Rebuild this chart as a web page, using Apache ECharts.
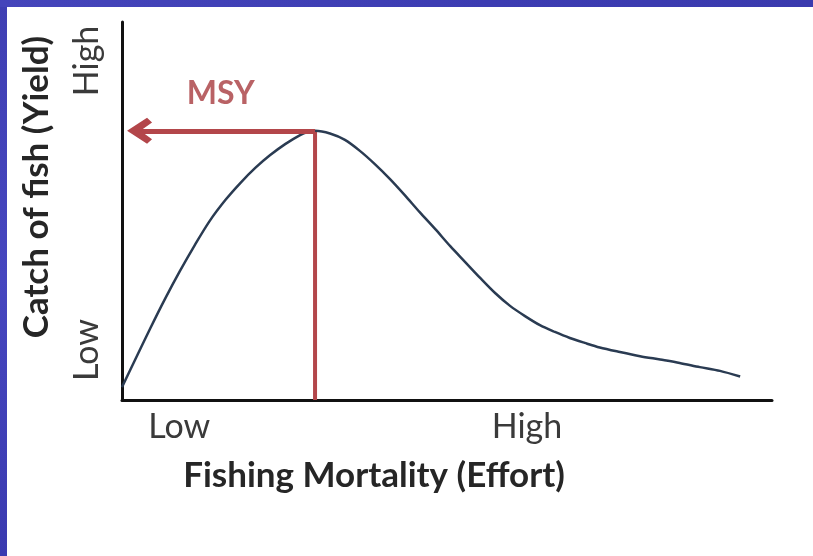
<!DOCTYPE html>
<html>
<head>
<meta charset="utf-8">
<script src="https://cdn.jsdelivr.net/npm/echarts@6/dist/echarts.min.js"></script>
<style>
html,body{margin:0;padding:0;background:#fff;overflow:hidden;}
#chart{position:absolute;left:0;top:0;width:813px;height:556px;}
#bl{position:absolute;left:0;top:0;width:7px;height:556px;background:linear-gradient(180deg,#3f3fb3,#4646bf 50%,#3a3ab0);}
#bt{position:absolute;left:0;top:0;width:813px;height:7px;background:linear-gradient(90deg,#4545bb,#3c3cb2 60%,#3a3aae);}
</style>
</head>
<body>
<div id="chart"></div>
<div id="bl"></div>
<div id="bt"></div>
<script>
// Fishing effort (x, relative 0-100) and catch / yield (y, relative 0-100)
const effort = [0, 2.0, 4.3, 6.6, 8.9, 11.2, 13.5, 15.9, 18.2, 20.5, 22.8, 25.1, 27.4, 28.6, 29.7,
  32.0, 34.3, 36.6, 38.9, 41.2, 43.5, 45.8, 48.2, 50.5, 52.8, 55.1, 57.4, 59.7, 62.0, 64.3, 66.6,
  68.9, 71.2, 73.5, 76.6, 79.7, 82.8, 85.8, 88.9, 92.0, 95.1];
const yieldValues = [3.4, 10.6, 18.8, 26.7, 34.1, 41.0, 47.4, 52.9, 57.4, 61.4, 64.8, 67.7, 70.1, 70.9, 71.2,
  70.5, 68.8, 65.9, 62.4, 58.5, 54.2, 49.7, 45.2, 40.7, 36.5, 32.3, 28.3, 24.9, 22.2, 19.8, 18.0,
  16.4, 15.1, 13.9, 12.7, 11.6, 10.7, 9.8, 8.7, 7.7, 6.2];
const msyEffort = 29.7;
const msyYield = 71.2;
const arrowEnd = 2.7;
const msyLabelPos = [15.2, 81];
const xTickLabels = ['Low', 'High'];
const xTickValues = [8.8, 62.3];
const yTickLabels = ['Low', 'High'];
const yTickValues = [13.2, 89.7];

const curve = effort.map((x, i) => [x, yieldValues[i]]);
const FONT = 'Lato';
const red = '#b3464a';

const chart = echarts.init(document.getElementById('chart'));
chart.setOption({
  animation: false,
  backgroundColor: '#fff',
  grid: {left: 122, top: 22, width: 650, height: 378, containLabel: false},
  xAxis: {
    type: 'value', min: 0, max: 100,
    name: 'Fishing Mortality (Effort)',
    nameLocation: 'middle', nameGap: 58,
    nameTextStyle: {fontFamily: FONT, fontWeight: 'bold', fontSize: 35, color: '#262626', padding: [0, 146, 0, 0]},
    axisLine: {lineStyle: {color: '#111', width: 3}},
    axisTick: {show: false},
    splitLine: {show: false},
    axisLabel: {
      customValues: xTickValues,
      formatter: v => xTickLabels[xTickValues.indexOf(v)] || '',
      fontFamily: FONT, fontSize: 34, color: '#3a3a3a', margin: 10
    }
  },
  yAxis: {
    type: 'value', min: 0, max: 100,
    name: 'Catch of fish (Yield)',
    nameLocation: 'middle', nameGap: 68, nameRotate: 90,
    nameTextStyle: {fontFamily: FONT, fontWeight: 'bold', fontSize: 35, color: '#262626', padding: [0, 0, 0, 48]},
    axisLine: {lineStyle: {color: '#111', width: 3}},
    axisTick: {show: false},
    splitLine: {show: false},
    axisLabel: {
      customValues: yTickValues,
      rotate: 90,
      formatter: v => yTickLabels[yTickValues.indexOf(v)] || '',
      fontFamily: FONT, fontSize: 34, color: '#3a3a3a', margin: 18
    }
  },
  series: [
    {
      name: 'MSY effort', type: 'line', symbol: 'none', silent: true,
      data: [[msyEffort, 0], [msyEffort, msyYield]],
      lineStyle: {color: red, width: 4},
      markLine: {
        silent: true,
        symbol: ['none', 'path://M10,0 L20,12 L16.5,15 L10,8 L3.5,15 L0,12 Z'],
        symbolSize: [26, 25],
        label: {show: false},
        lineStyle: {color: red, width: 5, type: 'solid'},
        data: [[{coord: [msyEffort, msyYield]}, {coord: [arrowEnd, msyYield]}]]
      }
    },
    {
      name: 'Yield', type: 'line', symbol: 'none', smooth: 0.3, silent: true,
      data: curve,
      lineStyle: {color: '#2a3b52', width: 2.5}
    },
    {
      name: 'MSY label', type: 'scatter', symbolSize: 0, silent: true,
      data: [msyLabelPos],
      label: {show: true, position: 'inside', formatter: 'MSY', fontFamily: FONT, fontWeight: 'bold', fontSize: 32, color: '#a83b3f'}
    }
  ]
});
</script>
</body>
</html>
